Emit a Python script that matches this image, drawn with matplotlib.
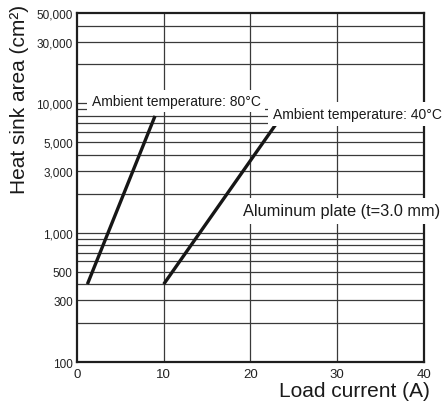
import matplotlib.pyplot as plt

plt.rcParams["font.family"] = ["Liberation Sans", "DejaVu Sans"]

# curves: load current (A) -> heat sink area (cm2)
current_80 = [1.2, 9.0]
area_80 = [400, 8000]
current_40 = [10.0, 23.0]
area_40 = [400, 7000]

x_ticks = [0, 10, 20, 30, 40]
y_ticks = [100, 300, 500, 1000, 3000, 5000, 10000, 30000, 50000]
y_ticklabels = ["100", "300", "500", "1,000", "3,000", "5,000", "10,000", "30,000", "50,000"]
h_grid = [200, 300, 400, 500, 600, 700, 800, 900, 1000,
          2000, 3000, 4000, 5000, 6000, 7000, 8000, 9000,
          20000, 30000, 40000]
v_grid = [10, 20, 30]

fig = plt.figure(figsize=(4.43, 4.06), dpi=100)
ax = fig.add_axes([0.1738, 0.1059, 0.7832, 0.8596])

ax.set_xlim(0, 40)
ax.set_yscale("log")
ax.set_ylim(100, 50000)

gc = "#3a3a3a"
for v in h_grid:
    ax.axhline(v, color=gc, lw=0.9, zorder=1)
# the 10,000 line only shows at both ends
ax.axhline(10000, xmin=0, xmax=0.03, color=gc, lw=0.9, zorder=1)
ax.axhline(10000, xmin=0.805, xmax=1, color=gc, lw=0.9, zorder=1)
for v in v_grid:
    ax.axvline(v, color=gc, lw=0.9, zorder=1)

ax.plot(current_80, area_80, color="#161616", lw=2.4, solid_capstyle="butt", zorder=3)
ax.plot(current_40, area_40, color="#161616", lw=2.4, solid_capstyle="butt", zorder=3)

ax.text(1.69, 10400, "Ambient temperature: 80°C", fontsize=10, va="center",
        color="#1a1a1a", bbox=dict(facecolor="white", edgecolor="none", pad=3), zorder=6)
ax.text(22.56, 8280, "Ambient temperature: 40°C", fontsize=10, va="center",
        color="#1a1a1a", bbox=dict(facecolor="white", edgecolor="none", pad=3.5), zorder=6)
ax.text(19.17, 1480, "Aluminum plate (t=3.0 mm)", fontsize=11.8, va="center",
        color="#1a1a1a", bbox=dict(facecolor="white", edgecolor="none", pad=4), zorder=6)

ax.set_xticks(x_ticks)
ax.set_xticklabels([str(t) for t in x_ticks], fontsize=9.5, color="#222222")
ax.set_yticks(y_ticks)
ax.set_yticklabels(y_ticklabels, fontsize=8.5, color="#222222")
ax.yaxis.set_minor_locator(plt.NullLocator())
ax.tick_params(axis="both", length=0)
ax.tick_params(axis="x", pad=4)
ax.tick_params(axis="y", pad=3)

for s in ax.spines.values():
    s.set_linewidth(1.6)
    s.set_color("#1e1e1e")
    s.set_zorder(4)

fig.text(0.971, 0.023, "Load current (A)", fontsize=15, ha="right", va="baseline", color="#1a1a1a")
fig.text(0.043, 0.988, "Heat sink area (cm²)", fontsize=15, rotation=90, ha="center", va="top",
         color="#1a1a1a")

fig.savefig("out.png", dpi=100)
